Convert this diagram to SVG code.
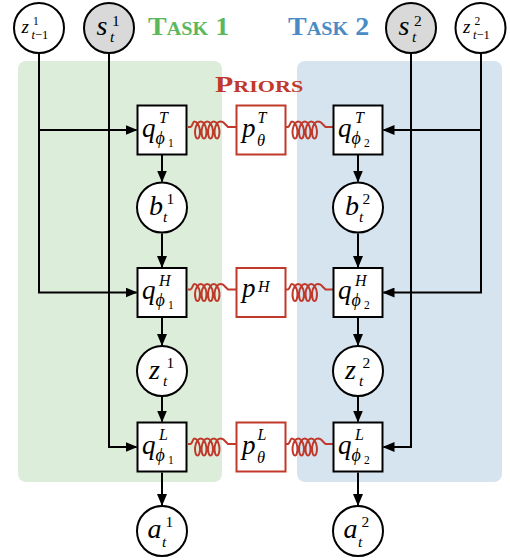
<svg xmlns="http://www.w3.org/2000/svg" width="510" height="560" viewBox="0 0 510 560">
<defs>
<style>
.m{font-family:"Liberation Serif","DejaVu Serif",serif;font-style:italic;fill:#000}
.n{font-family:"Liberation Serif","DejaVu Serif",serif;font-style:normal;fill:#000}
.box{fill:#fff;stroke:#000;stroke-width:2}
.pbox{fill:#fff;stroke:#c0392b;stroke-width:2}
.circ{fill:#fff;stroke:#000;stroke-width:2}
.obs{fill:#d9d9d9;stroke:#000;stroke-width:2}
.arr{fill:none;stroke:#000;stroke-width:2;marker-end:url(#ah)}
.spr{fill:none;stroke:#c0392b;stroke-width:2}
.title{font-family:"Liberation Serif","DejaVu Serif",serif;font-weight:bold}
</style>
<marker id="ah" markerUnits="userSpaceOnUse" markerWidth="12" markerHeight="10" refX="11" refY="5" orient="auto">
<path d="M0,0 L12,5 L0,10 Z" fill="#000"/>
</marker>
<path id="spring" d="M0,-3 H2.5 C4.5,-3.5 4.8,-8.5 6.25,-8.5 c2.636,0 5.083,4.05 5.625,8.5 c0.542,4.45 -0.822,8.5 -2.375,8.5 c-1.553,0 -2.917,-4.05 -2.375,-8.5 c0.542,-4.45 2.989,-8.5 5.625,-8.5 c2.636,0 5.083,4.05 5.625,8.5 c0.542,4.45 -0.822,8.5 -2.375,8.5 c-1.553,0 -2.917,-4.05 -2.375,-8.5 c0.542,-4.45 2.989,-8.5 5.625,-8.5 c2.636,0 5.083,4.05 5.625,8.5 c0.542,4.45 -0.822,8.5 -2.375,8.5 c-1.553,0 -2.917,-4.05 -2.375,-8.5 c0.542,-4.45 2.989,-8.5 5.625,-8.5 c2.636,0 5.083,4.05 5.625,8.5 c0.542,4.45 -0.822,8.5 -2.375,8.5 c-1.553,0 -2.917,-4.05 -2.375,-8.5 c0.542,-4.45 2.989,-8.5 5.625,-8.5 C34.5,-8.5 36,-7.5 37,-6 L40,-3 H48"/>
</defs>

<g id="panels">
<rect x="18" y="61" width="204" height="421" rx="8" fill="#dcedda"/>
<rect x="297" y="61" width="205" height="421" rx="8" fill="#d6e4f0"/>
</g>

<g id="titles">
<text class="title" transform="translate(148,35) scale(1.12,1)" fill="#5cb85c" font-size="25">T<tspan font-size="18">ASK</tspan> 1</text>
<text class="title" transform="translate(288,35) scale(1.12,1)" fill="#4a8bc6" font-size="25">T<tspan font-size="18">ASK</tspan> 2</text>
<text class="title" transform="translate(215,92) scale(1.3,1)" fill="#c0392b" font-size="23">P<tspan font-size="17">RIORS</tspan></text>
</g>

<g id="connectors">
<polyline class="arr" points="39,53 39,292.5 136.5,292.5"/>
<line class="arr" x1="39" y1="130" x2="136.5" y2="130"/>
<polyline class="arr" points="109,53 109,447 136.5,447"/>
<polyline class="arr" points="481,53 481,292.5 383.5,292.5"/>
<line class="arr" x1="481" y1="130" x2="383.5" y2="130"/>
<polyline class="arr" points="411,53 411,447 383.5,447"/>
<line class="arr" x1="162" y1="155" x2="162" y2="181.5"/>
<line class="arr" x1="162" y1="233.5" x2="162" y2="267"/>
<line class="arr" x1="162" y1="318" x2="162" y2="345"/>
<line class="arr" x1="162" y1="397" x2="162" y2="421.5"/>
<line class="arr" x1="162" y1="472.5" x2="162" y2="505"/>
<line class="arr" x1="358" y1="155" x2="358" y2="181.5"/>
<line class="arr" x1="358" y1="233.5" x2="358" y2="267"/>
<line class="arr" x1="358" y1="318" x2="358" y2="345"/>
<line class="arr" x1="358" y1="397" x2="358" y2="421.5"/>
<line class="arr" x1="358" y1="472.5" x2="358" y2="505"/>
<use href="#spring" class="spr" transform="translate(188,130)"/>
<use href="#spring" class="spr" transform="translate(188,292.5)"/>
<use href="#spring" class="spr" transform="translate(188,447)"/>
<use href="#spring" class="spr" transform="translate(285.5,130)"/>
<use href="#spring" class="spr" transform="translate(285.5,292.5)"/>
<use href="#spring" class="spr" transform="translate(285.5,447)"/>
</g>

<g id="z1prev" transform="translate(39,28)">
<circle class="circ" r="25"/>
<text class="m" font-size="19" x="-17.5" y="5">z</text>
<text class="n" font-size="11.5" x="-6" y="-3">1</text>
<text class="n" font-size="12.5" x="-7.5" y="11"><tspan class="m">t</tspan>−1</text>
</g>
<g id="s1" transform="translate(109,28)">
<circle class="obs" r="25"/>
<text class="m" font-size="28" x="-12.5" y="7">s</text>
<text class="n" font-size="15.5" x="3" y="-2.5">1</text>
<text class="m" font-size="15.5" x="1" y="14">t</text>
</g>
<g id="s2" transform="translate(411,28)">
<circle class="obs" r="25"/>
<text class="m" font-size="28" x="-12.5" y="7">s</text>
<text class="n" font-size="15.5" x="3" y="-2.5">2</text>
<text class="m" font-size="15.5" x="1" y="14">t</text>
</g>
<g id="z2prev" transform="translate(480.5,28)">
<circle class="circ" r="25"/>
<text class="m" font-size="19" x="-17.5" y="5">z</text>
<text class="n" font-size="11.5" x="-6" y="-3">2</text>
<text class="n" font-size="12.5" x="-7.5" y="11"><tspan class="m">t</tspan>−1</text>
</g>

<g id="qT1" transform="translate(162,130)">
<rect class="box" x="-24.5" y="-24.5" width="49" height="49"/>
<text class="m" font-size="27" x="-20" y="6.5">q</text>
<text class="m" font-size="16" x="-3" y="-7">T</text>
<text class="m" font-size="18" x="-6.5" y="13.5">ϕ</text>
<text class="n" font-size="11.5" x="6" y="16.5">1</text>
</g>
<g id="pT" transform="translate(261,130)">
<rect class="pbox" x="-24.5" y="-24.5" width="49" height="49"/>
<text class="m" font-size="27" x="-19" y="6.5">p</text>
<text class="m" font-size="16" x="-3.5" y="-7">T</text>
<text class="m" font-size="16.5" x="-4" y="15.5">θ</text>
</g>
<g id="qT2" transform="translate(358,130)">
<rect class="box" x="-24.5" y="-24.5" width="49" height="49"/>
<text class="m" font-size="27" x="-20" y="6.5">q</text>
<text class="m" font-size="16" x="-3" y="-7">T</text>
<text class="m" font-size="18" x="-6.5" y="13.5">ϕ</text>
<text class="n" font-size="11.5" x="6" y="16.5">2</text>
</g>

<g id="b1" transform="translate(162,207.5)">
<circle class="circ" r="25"/>
<text class="m" font-size="28" x="-13" y="7.5">b</text>
<text class="n" font-size="15.5" x="4.5" y="-4">1</text>
<text class="m" font-size="15.5" x="1" y="14.5">t</text>
</g>
<g id="b2" transform="translate(358,207.5)">
<circle class="circ" r="25"/>
<text class="m" font-size="28" x="-13" y="7.5">b</text>
<text class="n" font-size="15.5" x="4.5" y="-4">2</text>
<text class="m" font-size="15.5" x="1" y="14.5">t</text>
</g>

<g id="qH1" transform="translate(162,292.5)">
<rect class="box" x="-24.5" y="-24.5" width="49" height="49"/>
<text class="m" font-size="27" x="-20" y="6.5">q</text>
<text class="m" font-size="16" x="-3" y="-7">H</text>
<text class="m" font-size="18" x="-6.5" y="13.5">ϕ</text>
<text class="n" font-size="11.5" x="6" y="16.5">1</text>
</g>
<g id="pH" transform="translate(261,292.5)">
<rect class="pbox" x="-24.5" y="-24.5" width="49" height="49"/>
<text class="m" font-size="27" x="-19" y="4.5">p</text>
<text class="m" font-size="16" x="-3" y="-1">H</text>
</g>
<g id="qH2" transform="translate(358,292.5)">
<rect class="box" x="-24.5" y="-24.5" width="49" height="49"/>
<text class="m" font-size="27" x="-20" y="6.5">q</text>
<text class="m" font-size="16" x="-3" y="-7">H</text>
<text class="m" font-size="18" x="-6.5" y="13.5">ϕ</text>
<text class="n" font-size="11.5" x="6" y="16.5">2</text>
</g>

<g id="z1" transform="translate(162,371)">
<circle class="circ" r="25"/>
<text class="m" font-size="28" x="-13" y="8">z</text>
<text class="n" font-size="15.5" x="4.5" y="-3">1</text>
<text class="m" font-size="15.5" x="1" y="15">t</text>
</g>
<g id="z2" transform="translate(358,371)">
<circle class="circ" r="25"/>
<text class="m" font-size="28" x="-13" y="8">z</text>
<text class="n" font-size="15.5" x="4.5" y="-3">2</text>
<text class="m" font-size="15.5" x="1" y="15">t</text>
</g>

<g id="qL1" transform="translate(162,447)">
<rect class="box" x="-24.5" y="-24.5" width="49" height="49"/>
<text class="m" font-size="27" x="-20" y="6.5">q</text>
<text class="m" font-size="16" x="-3" y="-7">L</text>
<text class="m" font-size="18" x="-6.5" y="13.5">ϕ</text>
<text class="n" font-size="11.5" x="6" y="16.5">1</text>
</g>
<g id="pL" transform="translate(261,447)">
<rect class="pbox" x="-24.5" y="-24.5" width="49" height="49"/>
<text class="m" font-size="27" x="-19" y="6.5">p</text>
<text class="m" font-size="16" x="-3.5" y="-7">L</text>
<text class="m" font-size="16.5" x="-4" y="15.5">θ</text>
</g>
<g id="qL2" transform="translate(358,447)">
<rect class="box" x="-24.5" y="-24.5" width="49" height="49"/>
<text class="m" font-size="27" x="-20" y="6.5">q</text>
<text class="m" font-size="16" x="-3" y="-7">L</text>
<text class="m" font-size="18" x="-6.5" y="13.5">ϕ</text>
<text class="n" font-size="11.5" x="6" y="16.5">2</text>
</g>

<g id="a1" transform="translate(162,531)">
<circle class="circ" r="25"/>
<text class="m" font-size="28" x="-14.5" y="7">a</text>
<text class="n" font-size="15.5" x="3.5" y="-4">1</text>
<text class="m" font-size="15.5" x="0" y="15.5">t</text>
</g>
<g id="a2" transform="translate(358,531)">
<circle class="circ" r="25"/>
<text class="m" font-size="28" x="-14.5" y="7">a</text>
<text class="n" font-size="15.5" x="3.5" y="-4">2</text>
<text class="m" font-size="15.5" x="0" y="15.5">t</text>
</g>
</svg>
